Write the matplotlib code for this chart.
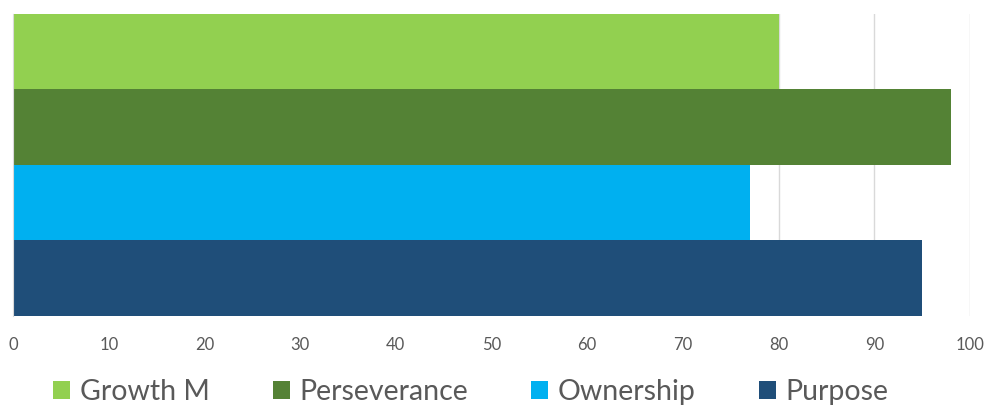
import numpy as np
import matplotlib.pyplot as plt
from matplotlib.patches import Patch

series = ['Growth M', 'Perseverance', 'Ownership', 'Purpose']
values = [80, 98, 77, 95]
colors = ['#92d050', '#548235', '#00b0f0', '#1f4e79']
xticks = [0, 10, 20, 30, 40, 50, 60, 70, 80, 90, 100]

plt.rcParams['font.family'] = ['Lato', 'DejaVu Sans']

fig = plt.figure(figsize=(9.87, 4.08), dpi=100)
ax = fig.add_axes([0.0132, 0.2255, 0.9696, 0.7402])

pos = np.arange(len(series))[::-1]
for p, v, c, s in zip(pos, values, colors, series):
    ax.barh(p, v, height=1.0, color=c, label=s, zorder=2)

ax.set_xlim(0, 100)
ax.set_ylim(-0.5, len(series) - 0.5)
ax.set_xticks(xticks)
ax.set_yticks([])
ax.xaxis.grid(True, color='#d9d9d9', linewidth=1, zorder=0)
for sp in ['top', 'right', 'bottom']:
    ax.spines[sp].set_visible(False)
ax.spines['left'].set_color('#d9d9d9')
ax.tick_params(axis='x', length=0, pad=15, labelsize=12, labelcolor='#595959')

handles = [Patch(facecolor=c, label=s) for s, c in zip(series, colors)]
fig.legend(handles=handles, loc='lower center', ncol=4, frameon=False,
           bbox_to_anchor=(0.477, -0.055), fontsize=20.5, handlelength=0.6,
           handleheight=0.6, handletextpad=0.35, columnspacing=2.2,
           labelcolor='#595959')

fig.savefig('out.png', dpi=100)
